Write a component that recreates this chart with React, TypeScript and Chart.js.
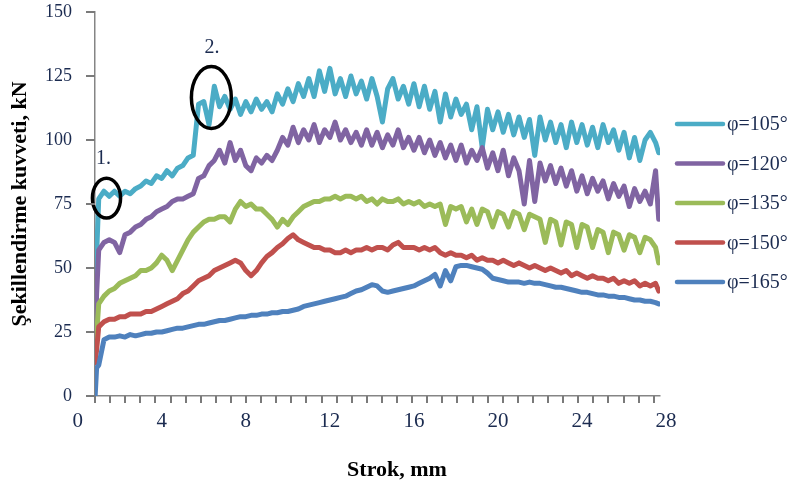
import React, { useEffect, useRef } from 'react';
import { Chart, registerables } from 'chart.js';

Chart.register(...registerables);

// ---------- data ----------
const strokeMm = [
  0.83, 0.9,
  1, 1.25, 1.5, 1.75,
  2, 2.25, 2.5, 2.75,
  3, 3.25, 3.5, 3.75,
  4, 4.25, 4.5, 4.75,
  5, 5.25, 5.5, 5.75,
  6, 6.25, 6.5, 6.75,
  7, 7.25, 7.5, 7.75,
  8, 8.25, 8.5, 8.75,
  9, 9.25, 9.5, 9.75,
  10, 10.25, 10.5, 10.75,
  11, 11.25, 11.5, 11.75,
  12, 12.25, 12.5, 12.75,
  13, 13.25, 13.5, 13.75,
  14, 14.25, 14.5, 14.75,
  15, 15.25, 15.5, 15.75,
  16, 16.25, 16.5, 16.75,
  17, 17.25, 17.5, 17.75,
  18, 18.25, 18.5, 18.75,
  19, 19.25, 19.5, 19.75,
  20, 20.25, 20.5, 20.75,
  21, 21.25, 21.5, 21.75,
  22, 22.25, 22.5, 22.75,
  23, 23.25, 23.5, 23.75,
  24, 24.25, 24.5, 24.75,
  25, 25.25, 25.5, 25.75,
  26, 26.25, 26.5, 26.75,
  27, 27.25, 27.5, 27.65,
];

const force105 = [
  22, 55,
  77, 80, 78, 80,
  78, 80, 79, 81,
  82, 84, 83, 86,
  85, 88, 86, 89,
  90, 93, 94, 114,
  115, 106, 121, 113,
  117, 112, 116, 110,
  115, 111, 116, 112,
  115, 111, 118, 114,
  120, 115, 122, 117,
  124, 117, 127, 119,
  128, 118, 124, 117,
  125, 118, 123, 116,
  124, 117, 107, 120,
  124, 116, 121, 114,
  122, 113, 121, 112,
  119, 107, 118, 109,
  116, 110, 114, 104,
  113, 97, 112, 104,
  111, 103, 110, 102,
  109, 101, 108, 94,
  109, 100, 107, 99,
  106, 97, 107, 99,
  106, 98, 105, 97,
  106, 99, 104, 96,
  103, 93, 101, 92,
  100, 103, 99, 95,
];

const force120 = [
  20, 40,
  57, 60, 61, 60,
  56, 63, 64, 66,
  67, 69, 70, 72,
  73, 74, 76, 77,
  77, 78, 79, 85,
  86, 90, 92, 96,
  91, 99, 92, 96,
  90, 88, 93, 91,
  94, 92, 96, 101,
  98, 105, 99, 104,
  100, 106, 99, 104,
  101, 107, 100, 104,
  99, 103, 98, 104,
  98, 103, 97, 102,
  98, 104, 97, 101,
  96, 101, 95, 100,
  94, 99, 93, 98,
  92, 98, 91, 96,
  92, 97, 89, 95,
  88, 96, 86, 93,
  88, 75, 92, 76,
  91, 84, 90, 83,
  89, 82, 88, 80,
  86, 79, 85, 80,
  84, 77, 83, 78,
  82, 74, 81, 76,
  80, 75, 88, 69,
];

const force135 = [
  17, 24,
  36, 39, 41, 42,
  44, 45, 46, 47,
  49, 49, 50, 52,
  55, 53, 49, 53,
  57, 61, 64, 66,
  68, 69, 69, 70,
  70, 68, 73, 76,
  74, 75, 73, 73,
  71, 69, 66, 69,
  67, 70, 72, 74,
  75, 76, 76, 77,
  77, 78, 77, 78,
  78, 77, 78, 76,
  77, 75, 77, 76,
  76, 77, 75, 76,
  75, 76, 74, 75,
  74, 75, 67, 74,
  73, 74, 68, 73,
  67, 73, 72, 66,
  72, 71, 66, 72,
  71, 65, 71, 70,
  69, 60, 69, 68,
  59, 68, 67, 58,
  67, 66, 58, 65,
  64, 56, 64, 63,
  57, 63, 62, 56,
  62, 61, 58, 52,
];

const force150 = [
  13, 18,
  27, 29, 30, 30,
  31, 31, 32, 32,
  32, 33, 33, 34,
  35, 36, 37, 38,
  40, 41, 43, 45,
  46, 47, 49, 50,
  51, 52, 53, 52,
  49, 47, 49, 52,
  54.5, 56, 58, 59.5,
  61.5, 63, 61, 60,
  59, 58, 58, 57,
  57, 56, 56, 57,
  56, 57, 57, 58,
  57, 58, 58, 57,
  59, 60, 58, 58,
  58, 57, 58, 57,
  58, 56, 55, 56,
  55, 55, 54, 55,
  53, 54, 53, 53,
  52, 53, 52, 51,
  52, 51, 50, 51,
  50, 49, 50, 49,
  48, 49, 47, 48,
  47, 46, 47, 46,
  46, 45, 46, 44,
  45, 44, 45, 43,
  44, 43, 44, 41,
];

const force165 = [
  0, 11,
  12, 22, 23, 23,
  23.5, 23, 24, 23.5,
  24, 24.5, 24.5, 25,
  25, 25.5, 26, 26.5,
  26.5, 27, 27.5, 28,
  28, 28.5, 29, 29.5,
  29.5, 30, 30.5, 31,
  31, 31.5, 31.5, 32,
  32, 32.5, 32.5, 33,
  33, 33.5, 34, 35,
  35.5, 36, 36.5, 37,
  37.5, 38, 38.5, 39,
  40, 41, 41.5, 42.5,
  43.5, 43, 41, 40.5,
  41, 41.5, 42, 42.5,
  43, 44, 45, 46,
  47.5, 43, 49, 45,
  50.5, 51, 51, 50.5,
  50, 49.5, 48, 46,
  45.5, 45, 44.5, 44.5,
  44.5, 44, 44.5, 44,
  44, 43.5, 43, 42.5,
  42.5, 42, 41.5, 41,
  40.5, 40.5, 40, 39.5,
  39.5, 39, 39, 38.5,
  38.5, 38, 37.5, 37.5,
  37, 37, 36.5, 36,
];

const seriesLabels = ['φ=105°', 'φ=120°', 'φ=135°', 'φ=150°', 'φ=165°'];
const seriesValues = [force105, force120, force135, force150, force165];
const seriesColors = ['#4BACC6', '#8064A2', '#9BBB59', '#C0504D', '#4F81BD'];

const yTickValues = [0, 25, 50, 75, 100, 125, 150];
const xTickLabels = [0, 4, 8, 12, 16, 20, 24, 28];

const xTitle = 'Strok, mm';
const yTitle = 'Şekillendirme kuvveti, kN';

// annotation markers (data units)
const markerTexts = ['1.', '2.'];
const markerTextX = [1.23, 6.39];
const markerTextY = [92.8, 135.9];
const ellipseCx = [1.37, 6.36];
const ellipseCy = [77.3, 116.6];
const ellipseRx = [0.67, 0.95];
const ellipseRy = [7.8, 12.1];

// axis extent
const X_MIN = 0.823;
const X_MAX = 27.71;
const MINOR_STEP = 0.7187;
const MINOR_COUNT = 38;

const SERIF = "'Liberation Serif', 'Times New Roman', serif";
const TEXT_COLOR = '#1b2b50';
const AXIS_COLOR = '#858585';

const annotationPlugin = {
  id: 'markerAnnotations',
  afterDatasetsDraw(chart: any) {
    const { ctx, scales } = chart;
    const x = scales.x;
    const y = scales.y;
    ctx.save();
    ctx.strokeStyle = '#000';
    ctx.lineWidth = 3.5;
    for (let i = 0; i < ellipseCx.length; i++) {
      const cx = x.getPixelForValue(ellipseCx[i]);
      const cy = y.getPixelForValue(ellipseCy[i]);
      const rx = Math.abs(x.getPixelForValue(ellipseCx[i] + ellipseRx[i]) - cx);
      const ry = Math.abs(y.getPixelForValue(ellipseCy[i] + ellipseRy[i]) - cy);
      ctx.beginPath();
      ctx.ellipse(cx, cy, rx, ry, 0, 0, Math.PI * 2);
      ctx.stroke();
    }
    ctx.fillStyle = TEXT_COLOR;
    ctx.font = `20px ${SERIF}`;
    ctx.textAlign = 'center';
    ctx.textBaseline = 'middle';
    for (let i = 0; i < markerTexts.length; i++) {
      ctx.fillText(markerTexts[i], x.getPixelForValue(markerTextX[i]), y.getPixelForValue(markerTextY[i]));
    }
    ctx.restore();
  },
};

// tick marks along both axes, placed through the scales
const axisTickPlugin = {
  id: 'axisTickMarks',
  afterDraw(chart: any) {
    const { ctx, chartArea, scales } = chart;
    const x = scales.x;
    const y = scales.y;
    ctx.save();
    ctx.strokeStyle = '#7a7a7a';
    ctx.lineWidth = 2;
    ctx.lineCap = 'butt';
    ctx.beginPath();
    yTickValues.forEach((v) => {
      const py = Math.round(y.getPixelForValue(v));
      ctx.moveTo(chartArea.left - 9, py);
      ctx.lineTo(chartArea.left, py);
    });
    for (let k = 0; k < MINOR_COUNT; k++) {
      const px = Math.round(x.getPixelForValue(X_MIN + k * MINOR_STEP));
      ctx.moveTo(px, chartArea.bottom);
      ctx.lineTo(px, chartArea.bottom + 7);
    }
    ctx.stroke();
    ctx.restore();
  },
};

const sideLegendPlugin = {
  id: 'sideLegend',
  afterDraw(chart: any) {
    const { ctx, chartArea } = chart;
    const datasets = chart.data.datasets;
    const x0 = chartArea.right + 17;
    const y0 = chartArea.top + 112;
    ctx.save();
    ctx.font = `20px ${SERIF}`;
    ctx.textAlign = 'left';
    ctx.textBaseline = 'middle';
    datasets.forEach((ds: any, i: number) => {
      const yy = y0 + i * 39.5;
      ctx.strokeStyle = ds.borderColor;
      ctx.lineWidth = 4.5;
      ctx.lineCap = 'round';
      ctx.beginPath();
      ctx.moveTo(x0, yy);
      ctx.lineTo(x0 + 46, yy);
      ctx.stroke();
      ctx.fillStyle = TEXT_COLOR;
      ctx.fillText(ds.label, x0 + 50, yy + 1);
    });
    ctx.restore();
  },
};

export default function App() {
  const canvasRef = useRef<HTMLCanvasElement | null>(null);

  useEffect(() => {
    document.body.style.margin = '0';
    const canvas = canvasRef.current;
    if (!canvas) return;

    const datasets = seriesValues.map((vals, i) => ({
      label: seriesLabels[i],
      data: strokeMm.map((xv, j) => ({ x: xv, y: vals[j] })),
      borderColor: seriesColors[i],
      backgroundColor: seriesColors[i],
      borderWidth: 5,
      pointRadius: 0,
      fill: false,
      tension: 0,
      order: seriesValues.length - i,
      borderJoinStyle: 'round' as const,
      borderCapStyle: 'round' as const,
    }));

    const chart = new Chart(canvas, {
      type: 'line',
      data: { datasets },
      plugins: [annotationPlugin, axisTickPlugin, sideLegendPlugin],
      options: {
        animation: false,
        responsive: false,
        devicePixelRatio: 1,
        layout: { padding: { top: 12, right: 0, left: 0, bottom: 0 } },
        plugins: {
          legend: { display: false },
          tooltip: { enabled: false },
          title: {
            display: true,
            position: 'bottom',
            text: xTitle,
            color: '#000',
            font: { family: SERIF, size: 22, weight: 'bold' },
            padding: { top: 0, bottom: 5.8 },
          },
        },
        scales: {
          x: {
            type: 'linear',
            min: X_MIN,
            max: X_MAX,
            afterBuildTicks: (scale: any) => {
              scale.ticks = xTickLabels.map((v) => ({ value: v }));
            },
            afterFit: (scale: any) => {
              scale.height = 60.8;
              scale.paddingLeft = 0;
              scale.paddingRight = 0;
            },
            grid: {
              display: true,
              drawOnChartArea: false,
              drawTicks: true,
              tickLength: 6,
              lineWidth: 1.5,
              color: AXIS_COLOR,
              tickColor: 'rgba(0,0,0,0)',
            },
            border: { display: true, color: AXIS_COLOR, width: 1.5 },
            ticks: {
              autoSkip: false,
              maxRotation: 0,
              padding: 6.4,
              color: TEXT_COLOR,
              font: { family: SERIF, size: 21 },
              callback: (value: any) => String(value),
            },
          },
          y: {
            type: 'linear',
            position: 'left',
            min: 0,
            max: 150,
            afterBuildTicks: (scale: any) => {
              scale.ticks = yTickValues.map((v) => ({ value: v }));
            },
            afterFit: (scale: any) => {
              scale.width = 95;
              scale.paddingTop = 0;
              scale.paddingBottom = 0;
            },
            grid: {
              display: true,
              drawOnChartArea: false,
              drawTicks: true,
              tickLength: 8,
              lineWidth: 1.5,
              color: AXIS_COLOR,
              tickColor: 'rgba(0,0,0,0)',
            },
            border: { display: true, color: AXIS_COLOR, width: 1.5 },
            ticks: {
              padding: 15,
              color: TEXT_COLOR,
              font: { family: SERIF, size: 18 },
            },
            title: {
              display: true,
              text: yTitle,
              color: '#000',
              font: { family: SERIF, size: 22, weight: 'bold' },
              padding: { top: 6.8, bottom: 0 },
            },
          },
          legendSpace: {
            type: 'linear',
            position: 'right',
            display: true,
            min: 0,
            max: 1,
            grid: { display: false, drawTicks: false },
            border: { display: false },
            ticks: { display: false },
            afterFit: (scale: any) => {
              scale.width = 134;
              scale.paddingTop = 0;
              scale.paddingBottom = 0;
            },
          },
        },
      },
    });

    return () => {
      chart.destroy();
    };
  }, []);

  return (
    <div style={{ width: 794, height: 489, position: 'relative' }}>
      <canvas ref={canvasRef} width={794} height={489} style={{ display: 'block', width: 794, height: 489 }} />
    </div>
  );
}
